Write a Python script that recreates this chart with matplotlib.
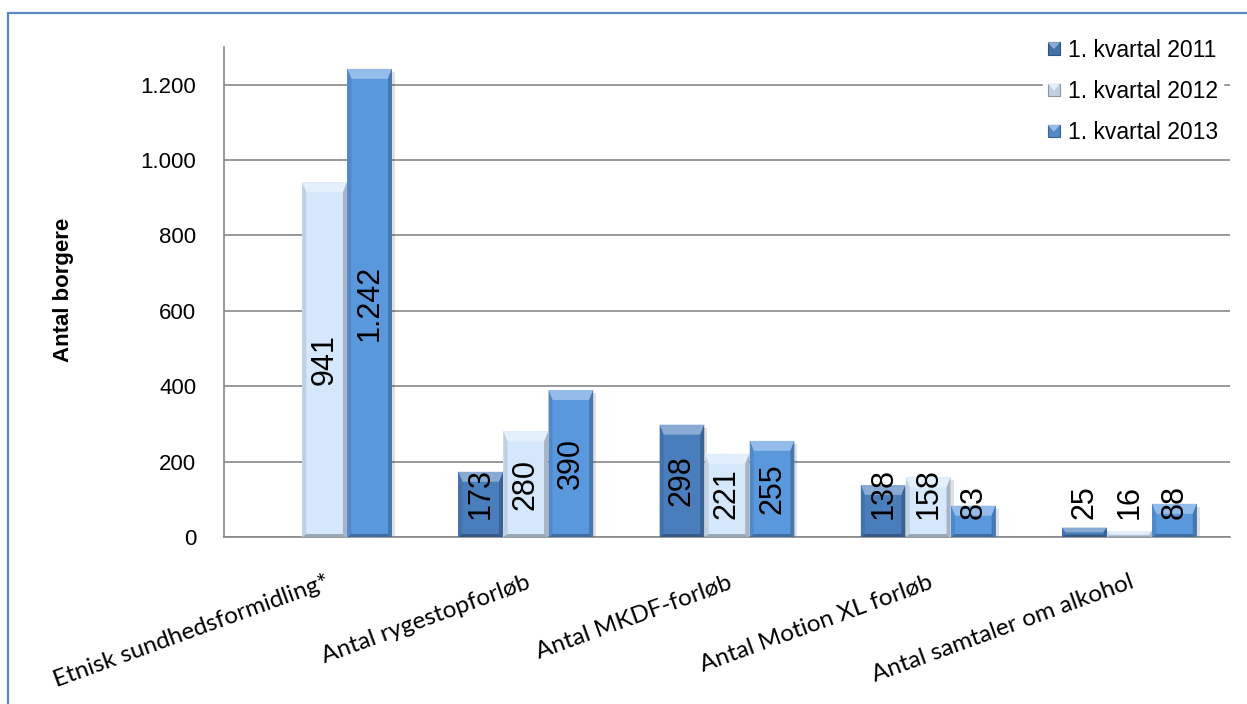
import numpy as np
import matplotlib
matplotlib.use("Agg")
import matplotlib.pyplot as plt
from matplotlib.patches import Rectangle, Polygon
from matplotlib.transforms import IdentityTransform
from matplotlib.legend_handler import HandlerBase
from matplotlib.colors import to_rgb

# ---- data -------------------------------------------------------------
categories = [
    "Etnisk sundhedsformidling*",
    "Antal rygestopforløb",
    "Antal MKDF-forløb",
    "Antal Motion XL forløb",
    "Antal samtaler om alkohol",
]
series_names = ["1. kvartal 2011", "1. kvartal 2012", "1. kvartal 2013"]
q1_2011 = [np.nan, 173, 298, 138, 25]
q1_2012 = [941, 280, 221, 158, 16]
q1_2013 = [1242, 390, 255, 83, 88]
y_ticks = [0, 200, 400, 600, 800, 1000, 1200]
y_tick_labels = ["0", "200", "400", "600", "800", "1.000", "1.200"]
y_title = "Antal borgere"

colors = ["#4a7dbc", "#d5e7fa", "#5a98de"]
grid_col = "#888888"

W, H = 1247, 704
fig = plt.figure(figsize=(W / 100, H / 100), dpi=100)
ax = fig.add_axes([224 / W, 1 - 537 / H, (1230 - 224) / W, (537 - 47) / H])

x = np.arange(len(categories))
bw = 0.224
all_series = [q1_2011, q1_2012, q1_2013]
bar_groups = []
for i, (vals, col, name) in enumerate(zip(all_series, colors, series_names)):
    bars = ax.bar(x + (i - 1) * bw, vals, bw * 0.99, color=col, label=name,
                  zorder=3, linewidth=0)
    bar_groups.append(bars)

ax.set_xlim(-0.5, len(categories) - 0.5)
ax.set_ylim(0, 1300)
ax.set_yticks(y_ticks)
ax.set_yticklabels(y_tick_labels, fontsize=16, family="Liberation Sans")
ax.yaxis.grid(True, color=grid_col, linewidth=1.2, zorder=0)
ax.set_axisbelow(True)
for s in ["top", "right"]:
    ax.spines[s].set_visible(False)
for s in ["left", "bottom"]:
    ax.spines[s].set_color(grid_col)
    ax.spines[s].set_linewidth(1.2)
ax.tick_params(axis="y", length=0, pad=20)
ax.set_xticks(x)
ax.set_xticklabels(categories, rotation=20, ha="right", va="top",
                   rotation_mode="anchor", fontsize=17.5, family="Lato")
ax.tick_params(axis="x", length=0, pad=25)

fig.text(64 / W, 1 - 290 / H, y_title, rotation=90, ha="center", va="center",
         fontsize=16, fontweight="bold", family="Liberation Sans")


def shade(c, f):
    r, g, b = to_rgb(c)
    if f >= 0:
        return (r + (1 - r) * f, g + (1 - g) * f, b + (1 - b) * f)
    f = -f
    return (r * (1 - f), g * (1 - f), b * (1 - f))


# ---- beveled look on each bar ------------------------------------------
fig.canvas.draw()
ident = IdentityTransform()
for bars, col in zip(bar_groups, colors):
    for p in bars:
        if not np.isfinite(p.get_height()) or p.get_height() <= 0:
            continue
        bb = p.get_window_extent()
        x0, y0, x1, y1 = bb.x0, bb.y0, bb.x1, bb.y1
        h = y1 - y0
        td = min(10.0, h / 2)
        sw = min(4.0, h / 3)
        bd = min(3.0, h / 4)
        # drop shadow
        ax.add_patch(Rectangle((x0 + 3, y0 - 3), x1 - x0, h, transform=ident,
                               facecolor="#000000", alpha=0.12, lw=0, zorder=2.5))
        polys = [
            ([(x0, y1), (x1, y1), (x1 - sw, y1 - td), (x0 + sw, y1 - td)], shade(col, 0.35)),
            ([(x0, y0), (x0, y1), (x0 + sw, y1 - td), (x0 + sw, y0 + bd)], shade(col, -0.10)),
            ([(x1, y0), (x1, y1), (x1 - sw, y1 - td), (x1 - sw, y0 + bd)], shade(col, -0.22)),
            ([(x0, y0), (x1, y0), (x1 - sw, y0 + bd), (x0 + sw, y0 + bd)], shade(col, -0.28)),
        ]
        for pts, fc in polys:
            ax.add_patch(Polygon(pts, closed=True, transform=ident, facecolor=fc,
                                 lw=0, zorder=3.5))

# ---- value labels (centered, kept clear of the axis line) --------------
axis_px = ax.transData.transform((0, 0))[1]
floor_px = axis_px + 18
renderer = fig.canvas.get_renderer()
for bars, vals in zip(bar_groups, all_series):
    for p, v in zip(bars, vals):
        if not np.isfinite(v):
            continue
        cx = p.get_x() + p.get_width() / 2
        label = f"{int(v):,}".replace(",", ".")
        t = ax.text(cx, v / 2, label, rotation=90, ha="center", va="center",
                    fontsize=22, family="Liberation Sans", color="black", zorder=5)
        ext = t.get_window_extent(renderer)
        if ext.y0 < floor_px:
            fy = ax.transData.inverted().transform((0, floor_px))[1]
            t.set_position((cx, fy))
            t.set_va("bottom")


# ---- legend with small beveled squares ---------------------------------
class BevelSquare(HandlerBase):
    def create_artists(self, legend, orig_handle, xdescent, ydescent,
                       width, height, fontsize, trans):
        fc = orig_handle.get_facecolor()
        s = min(width, height)
        bx = -xdescent + (width - s) / 2
        by = -ydescent + (height - s) / 2
        r = Rectangle((bx, by), s, s, facecolor=shade(fc, -0.1),
                      edgecolor=shade(fc, -0.35), lw=0.8, transform=trans)
        tri = Polygon([(bx, by + s), (bx + s, by + s), (bx + s / 2, by + s * 0.45)],
                      closed=True, facecolor=shade(fc, 0.35), lw=0, transform=trans)
        return [r, tri]


handles = [g.patches[-1] for g in bar_groups]
leg = fig.legend(handles, series_names, loc="upper left",
                 bbox_to_anchor=(1043 / W, 1 - 34 / H),
                 prop={"family": "Liberation Sans", "size": 16.5},
                 frameon=True, framealpha=1, edgecolor="white", facecolor="white",
                 handlelength=0.55, handleheight=0.55, handletextpad=0.35,
                 labelspacing=0.8, borderpad=0.2, borderaxespad=0,
                 handler_map={h: BevelSquare() for h in handles})
leg.set_zorder(6)

# ---- outer frame --------------------------------------------------------
fig.add_artist(Rectangle((8 / W, -0.1), 1.2, 1.1 - 13 / H, transform=fig.transFigure,
                         fill=False, edgecolor="#5b87c2", linewidth=1.6))

fig.savefig("out.png", dpi=100)
